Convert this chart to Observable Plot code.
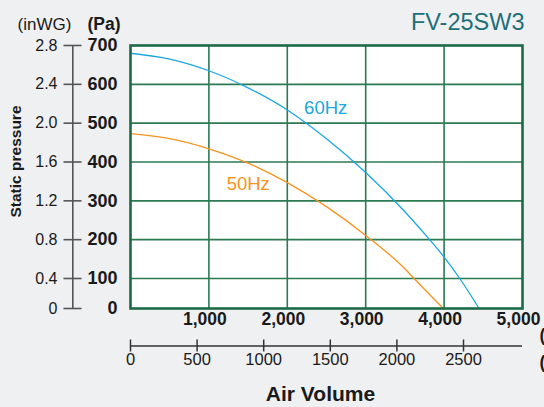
<!DOCTYPE html>
<html>
<head>
<meta charset="utf-8">
<script src="https://cdn.jsdelivr.net/npm/d3@7"></script>
<script src="https://cdn.jsdelivr.net/npm/@observablehq/plot@0.6"></script>
<style>
  html, body { margin: 0; padding: 0; background: #eff0f1; overflow: hidden; }
  #chart svg { display: block; background: transparent; }
</style>
</head>
<body>
<div id="chart"></div>
<script>
// ---- data (air volume in m³/h, static pressure in Pa) ----
const airVolume60 = [0, 500, 1000, 1500, 2000, 2500, 3000, 3500, 3815, 4000, 4200, 4446];
const pressure60  = [680, 665, 635, 591, 534, 460, 373, 272, 200, 155, 100, 0];
const airVolume50 = [0, 500, 1000, 1500, 2000, 2500, 3000, 3500, 3617, 3990];
const pressure50  = [473, 460, 434, 397, 347, 285, 211, 125, 100, 0];

const paTicks = [0, 100, 200, 300, 400, 500, 600, 700];
const inwgLabels = ["0", "0.4", "0.8", "1.2", "1.6", "2.0", "2.4", "2.8"];
const m3hTicks = [1000, 2000, 3000, 4000, 5000];
const cfmTicks = [0, 500, 1000, 1500, 2000, 2500];
const CFM_TO_M3H = 1.699;

const seriesLabels = [
  {name: "60Hz", q: 2490, p: 540, color: "#1ba7e0"},
  {name: "50Hz", q: 1502, p: 342, color: "#f7931e"}
];

const data60 = airVolume60.map((q, i) => ({q, p: pressure60[i]}));
const data50 = airVolume50.map((q, i) => ({q, p: pressure50[i]}));

const green = "#2b7a52";
const font = "'Liberation Sans', Arial, Helvetica, sans-serif";
const ink = "#1a1a1a";

const chart = Plot.plot({
  width: 544,
  height: 407,
  marginLeft: 130,
  marginRight: 22,
  marginTop: 45,
  marginBottom: 99,
  style: {background: "transparent", fontFamily: font, overflow: "visible"},
  x: {domain: [0, 5000], axis: null},
  y: {type: "linear", domain: [0, 100, 700], range: [308, 278, 45], axis: null},
  marks: [
    Plot.frame({fill: "white", stroke: null}),
    Plot.gridX(m3hTicks.slice(0, 4), {stroke: green, strokeOpacity: 1, strokeWidth: 1.6}),
    Plot.gridY(paTicks.slice(1, 7), {stroke: green, strokeOpacity: 1, strokeWidth: 1.6}),
    Plot.line(data50, {x: "q", y: "p", stroke: "#f7931e", strokeWidth: 1.3, curve: "monotone-x"}),
    Plot.line(data60, {x: "q", y: "p", stroke: "#1ba7e0", strokeWidth: 1.3, curve: "monotone-x"}),
    Plot.frame({stroke: "#1d6a47", strokeWidth: 2.6}),
    Plot.text(seriesLabels, {x: "q", y: "p", text: "name", fill: "color", fontSize: 18.5}),

    // left pressure axes
    Plot.ruleX([0], {y1: 0, y2: 700, dx: -57.7, stroke: "#555", strokeWidth: 1.6}),
    Plot.axisY(paTicks, {anchor: "left", tickSize: 18, dx: -48.5, tickFormat: () => "", stroke: "#555", strokeWidth: 1.6, label: null}),
    Plot.axisY(paTicks, {anchor: "left", tickSize: 0, tickPadding: 0, dx: -13, fontWeight: "bold", fontSize: 18, fill: ink, label: null}),
    Plot.axisY(paTicks, {anchor: "left", tickSize: 0, tickPadding: 0, dx: -73, fontSize: 16, fill: ink, label: null,
      tickFormat: d => inwgLabels[paTicks.indexOf(d)]}),

    // bottom air volume axes
    Plot.axisX(m3hTicks, {anchor: "bottom", tickSize: 0, tickPadding: 4, dx: -4, fontWeight: "bold", fontSize: 17.5, fill: ink, label: null,
      tickFormat: d => d3.format(",")(d)}),
    Plot.ruleY([0], {dy: 37.5, stroke: "#333", strokeWidth: 1.5}),
    Plot.axisX(cfmTicks.map(c => c * CFM_TO_M3H), {anchor: "bottom", tickSize: 12, dy: 31.5, tickFormat: () => "", stroke: "#333", strokeWidth: 1.5, label: null}),
    Plot.axisX(cfmTicks.map(c => c * CFM_TO_M3H), {anchor: "bottom", tickSize: 0, tickPadding: 0, dy: 45, fontSize: 16.5, fill: ink, label: null,
      tickFormat: d => String(Math.round(d / CFM_TO_M3H))}),

    // titles and labels
    Plot.text(["Air Volume"], {text: d => d, frameAnchor: "bottom", lineAnchor: "middle", dx: -6, dy: 86, fontWeight: "bold", fontSize: 21, fill: ink}),
    Plot.text(["Static pressure"], {text: d => d, frameAnchor: "left", textAnchor: "middle", lineAnchor: "middle", rotate: -90, dx: -114, dy: -15.5, fontWeight: "bold", fontSize: 15.5, fill: ink}),
    Plot.text(["(inWG)"], {text: d => d, frameAnchor: "top-left", textAnchor: "middle", lineAnchor: "middle", dx: -86, dy: -21, fontSize: 17, fill: ink}),
    Plot.text(["(Pa)"], {text: d => d, frameAnchor: "top-left", textAnchor: "middle", lineAnchor: "middle", dx: -26.5, dy: -21, fontSize: 17.5, fontWeight: "bold", fill: ink}),
    Plot.text(["FV-25SW3"], {text: d => d, frameAnchor: "top-right", textAnchor: "end", lineAnchor: "middle", dx: 2, dy: -23, fontSize: 23.5, fill: "#1f6f78"}),
    Plot.text(["(m³/h)"], {text: d => d, frameAnchor: "bottom-right", textAnchor: "start", lineAnchor: "middle", dx: 17, dy: 27, fontSize: 17.5, fontWeight: "bold", fill: ink}),
    Plot.text(["(CFM)"], {text: d => d, frameAnchor: "bottom-right", textAnchor: "start", lineAnchor: "middle", dx: 17, dy: 54, fontSize: 17.5, fontWeight: "bold", fill: ink})
  ]
});

document.getElementById("chart").appendChild(chart);
</script>
</body>
</html>
